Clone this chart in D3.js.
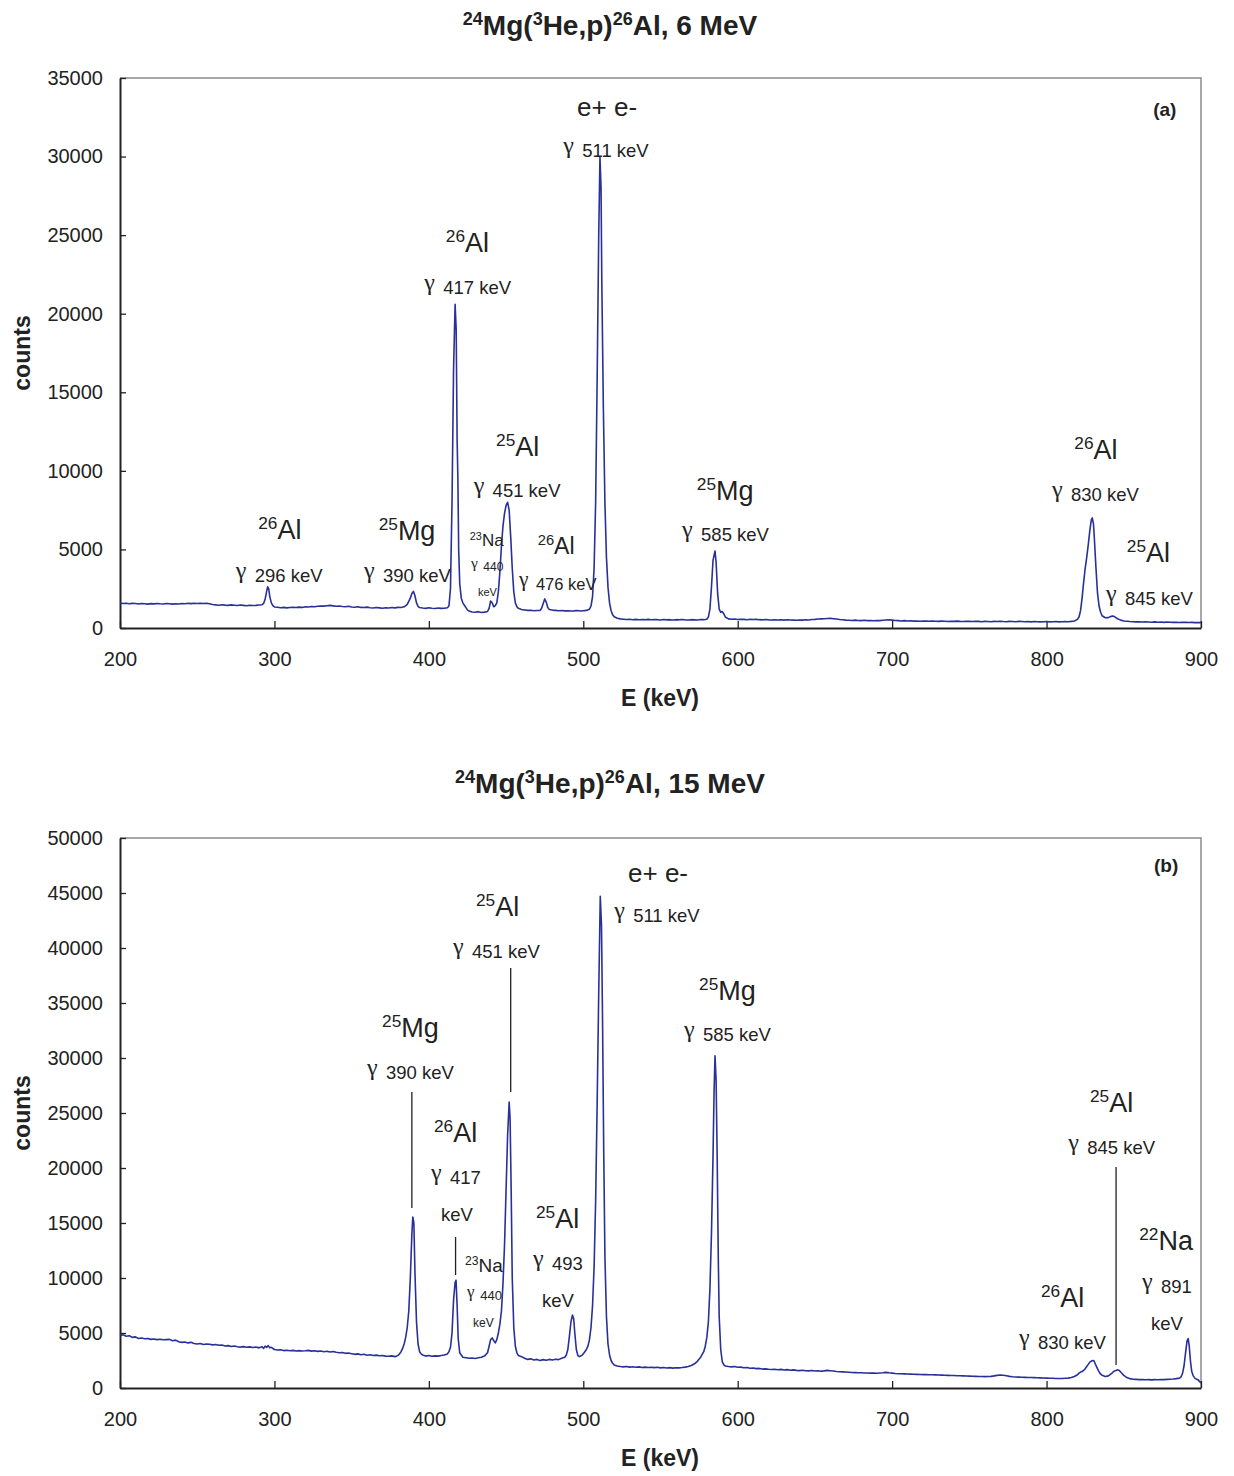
<!DOCTYPE html>
<html>
<head>
<meta charset="utf-8">
<script src="https://cdn.jsdelivr.net/npm/d3@7"></script>
<style>
  body { margin: 0; background: #fff; }
  text { font-family: "Liberation Sans", Arial, Helvetica, sans-serif; }
</style>
</head>
<body>
<svg id="chart" width="1234" height="1476"></svg>
<script>
// Gamma-ray spectra, [energy keV, counts]
const spectrumA = [
  [200,1590],[202,1560],[204,1575],[206,1540],[208,1565],[210,1555],[212,1530],[214,1560],[216,1545],[218,1520],
  [220,1550],[222,1535],[224,1560],[226,1540],[228,1525],[230,1555],[232,1540],[234,1520],[236,1545],[238,1530],
  [240,1560],[242,1545],[244,1570],[246,1550],[248,1575],[250,1560],[252,1580],[254,1555],[256,1570],[258,1540],
  [260,1500],[262,1470],[264,1450],[266,1480],[268,1455],[270,1440],[272,1470],[274,1450],[276,1430],[278,1460],
  [280,1440],[282,1420],[284,1450],[286,1430],[288,1440],[290,1460],[292,1480],[293,1560],[294,1850],[295,2350],
  [295.6,2620],[296.3,2500],[297,2000],[298,1600],[299,1420],[300,1340],[302,1320],[304,1290],[306,1310],[308,1280],
  [310,1300],[312,1320],[314,1300],[316,1330],[318,1310],[320,1350],[322,1340],[324,1370],[326,1350],[328,1380],
  [330,1400],[332,1390],[334,1420],[336,1440],[338,1410],[340,1380],[342,1400],[344,1370],[346,1350],[348,1380],
  [350,1340],[352,1320],[354,1350],[356,1310],[358,1300],[360,1330],[362,1290],[364,1270],[366,1300],[368,1280],
  [370,1260],[372,1290],[374,1270],[376,1300],[378,1280],[380,1310],[382,1300],[384,1350],[386,1500],[388,1900],
  [389,2200],[390,2330],[391,2050],[392,1600],[393,1380],[394,1300],[396,1270],[398,1250],[400,1290],[402,1260],
  [404,1240],[406,1270],[408,1250],[410,1260],[412,1290],[413,1400],[414,2500],[415,8000],[416,16500],[417,20600],
  [417.7,19000],[418.3,12000],[418.8,9500],[419.3,5000],[420,2800],[421,1900],[422,1600],[423,1450],[424,1300],[425,1150],
  [426,1080],[428,1020],[430,1000],[432,1040],[434,990],[436,1010],[438,1050],[439,1250],[440,1720],[441,1600],
  [442,1350],[443,1420],[444,1600],[445,2300],[446,3600],[447,5200],[448,6500],[449,7300],[450,7800],[451,8000],
  [452,7500],[453,5800],[454,3800],[455,2300],[456,1600],[457,1350],[458,1250],[460,1180],[462,1150],[464,1120],
  [466,1130],[468,1100],[470,1110],[472,1120],[473,1250],[474,1550],[475,1850],[476,1650],[477,1300],[478,1180],
  [480,1140],[482,1120],[484,1100],[486,1110],[488,1090],[490,1100],[492,1080],[494,1090],[496,1110],[498,1080],
  [500,1100],[502,1120],[504,1200],[505,1400],[506,2000],[507,3800],[508,8000],[509,16000],[510,25000],[510.8,30000],
  [511.5,28000],[512,22000],[513,14000],[514,8000],[515,4500],[516,2600],[517,1600],[518,1100],[519,850],[520,720],
  [522,620],[524,580],[526,560],[528,540],[530,560],[532,530],[534,550],[536,520],[538,540],[540,530],
  [542,550],[544,520],[546,540],[548,530],[550,510],[552,540],[554,520],[556,530],[558,510],[560,530],
  [562,520],[564,540],[566,520],[568,510],[570,530],[572,520],[574,510],[576,540],[578,530],[580,560],
  [581,700],[582,1200],[583,2600],[584,4300],[585.3,4900],[586,4200],[587,2200],[588,1200],[589,1000],[590,1050],
  [591,900],[592,700],[594,580],[596,560],[598,570],[600,540],[602,560],[604,550],[606,530],[608,560],
  [610,540],[612,550],[614,530],[616,520],[618,540],[620,520],[622,510],[624,530],[626,510],[628,520],
  [630,500],[632,520],[634,510],[636,500],[638,490],[640,510],[642,500],[644,520],[646,510],[648,540],
  [650,550],[652,570],[654,580],[656,590],[658,600],[660,610],[662,590],[664,570],[666,540],[668,520],
  [670,500],[672,490],[674,480],[676,500],[678,480],[680,470],[682,490],[684,470],[686,480],[688,460],
  [690,480],[692,470],[694,490],[696,510],[698,520],[700,500],[702,480],[704,470],[706,450],[708,470],
  [710,450],[712,460],[714,440],[716,450],[718,430],[720,450],[722,440],[724,430],[726,450],[728,430],
  [730,420],[732,440],[734,430],[736,410],[738,430],[740,420],[742,440],[744,420],[746,410],[748,430],
  [750,420],[752,410],[754,430],[756,420],[758,400],[760,420],[762,410],[764,400],[766,420],[768,410],
  [770,430],[772,410],[774,400],[776,420],[778,410],[780,400],[782,420],[784,410],[786,400],[788,410],
  [790,390],[792,410],[794,400],[796,390],[798,400],[800,410],[802,390],[804,400],[806,410],[808,390],
  [810,400],[812,410],[814,400],[816,420],[818,450],[820,550],[821,700],[822,1100],[823,1900],[824,2900],
  [825,3800],[826,4500],[827,5300],[828,6200],[829,6900],[829.6,7000],[830.4,6600],[831,5600],[832,3800],[833,2200],
  [834,1400],[835,1000],[836,780],[838,650],[840,660],[841,710],[842,740],[843,760],[844,720],[845,650],
  [846,590],[848,500],[850,450],[852,430],[854,410],[856,400],[858,390],[860,400],[862,380],[864,390],
  [866,380],[868,370],[870,390],[872,370],[874,380],[876,360],[878,380],[880,370],[882,360],[884,370],
  [886,350],[888,370],[890,360],[892,350],[894,360],[896,340],[898,350],[900,340]
];

const spectrumB = [
  [200,4900],[201,4800],[202,4850],[204,4700],[206,4750],[208,4600],[210,4650],[212,4500],[214,4550],[216,4480],
  [218,4500],[220,4420],[222,4450],[224,4400],[226,4430],[228,4380],[230,4400],[232,4420],[234,4300],[236,4350],
  [238,4200],[240,4150],[242,4180],[244,4100],[246,4150],[248,4050],[250,4000],[252,4050],[254,3950],[256,4000],
  [258,3980],[260,3920],[262,3950],[264,3880],[266,3900],[268,3820],[270,3850],[272,3780],[274,3820],[276,3750],
  [278,3720],[280,3760],[282,3700],[284,3740],[286,3680],[288,3720],[290,3650],[292,3750],[293,3600],[294,3800],
  [295,3700],[296,3850],[297,3650],[298,3700],[300,3500],[302,3450],[304,3480],[306,3400],[308,3430],[310,3380],
  [312,3420],[314,3370],[316,3400],[318,3360],[320,3380],[322,3420],[324,3350],[326,3380],[328,3330],[330,3360],
  [332,3300],[334,3340],[336,3280],[338,3320],[340,3250],[342,3200],[344,3230],[346,3150],[348,3180],[350,3120],
  [352,3060],[354,3100],[356,3030],[358,3070],[360,2980],[362,3020],[364,2950],[366,2990],[368,2930],[370,2960],
  [372,2900],[374,2880],[376,2920],[378,2850],[380,2950],[381,3100],[382,3300],[383,3600],[384,4000],[385,4600],
  [386,5500],[387,7000],[388,10000],[389,14000],[389.6,15550],[390.3,15000],[391,10500],[392,6000],[393,4000],[394,3300],
  [395,3100],[396,3000],[398,2900],[400,2950],[402,2880],[404,2920],[406,2900],[408,2950],[410,3000],[412,3100],
  [413,3300],[414,3700],[415,5000],[416,8000],[417,9600],[417.6,9800],[418.3,7500],[419,4500],[420,3200],[421,3000],
  [422,2800],[424,2750],[426,2700],[428,2720],[430,2680],[432,2750],[434,2800],[436,2900],[438,3200],[439,3800],
  [440,4400],[441,4550],[442,4300],[443,4100],[444,4400],[445,5000],[446,5800],[447,7000],[448,9500],[449,13000],
  [450,18000],[451,23000],[452,26000],[452.6,24500],[453.3,18000],[454,10000],[455,5500],[456,3800],[457,3200],[458,2950],
  [460,2850],[462,2700],[464,2600],[466,2650],[468,2550],[470,2600],[472,2500],[474,2580],[476,2520],[478,2600],
  [480,2550],[482,2620],[484,2580],[486,2700],[488,2800],[489,3000],[490,3500],[491,4700],[492,6000],[493,6640],
  [493.8,6300],[494.5,5000],[495.5,3500],[496.5,2950],[497.5,2850],[499,2950],[500,3100],[501,3300],[502,3500],[503,3800],
  [504,4400],[505,5500],[506,7500],[507,11000],[508,17000],[509,26000],[510,36000],[511,44700],[511.8,42000],[512.5,33000],
  [513.2,22000],[514,12000],[515,6500],[516,4000],[517,3000],[518,2500],[519,2250],[520,2100],[522,2000],[524,1950],
  [526,1920],[528,1950],[530,1900],[532,1930],[534,1880],[536,1920],[538,1870],[540,1900],[542,1860],[544,1890],
  [546,1850],[548,1880],[550,1830],[552,1860],[554,1820],[556,1850],[558,1810],[560,1840],[562,1830],[564,1860],
  [566,1900],[568,1950],[570,2050],[572,2200],[574,2450],[576,2800],[578,3300],[579,3800],[580,4600],[581,6000],
  [582,9000],[583,14000],[584,21000],[584.7,27000],[585.3,30200],[586,28000],[586.7,21000],[587.4,12000],[588,6500],[589,3500],
  [590,2400],[591,2100],[592,2000],[594,1950],[596,1920],[598,1960],[600,1880],[602,1900],[604,1840],[606,1860],
  [608,1800],[610,1820],[612,1760],[614,1780],[616,1720],[618,1740],[620,1700],[622,1680],[624,1710],[626,1660],
  [628,1690],[630,1640],[632,1670],[634,1620],[636,1650],[638,1600],[640,1580],[642,1610],[644,1570],[646,1560],
  [648,1590],[650,1540],[652,1570],[654,1530],[656,1560],[658,1600],[660,1570],[662,1540],[664,1500],[666,1480],
  [668,1470],[670,1450],[672,1430],[674,1410],[676,1400],[678,1390],[680,1380],[682,1370],[684,1360],[686,1350],
  [688,1360],[690,1340],[692,1370],[694,1390],[696,1420],[698,1380],[700,1350],[702,1320],[704,1300],[706,1290],
  [708,1280],[710,1270],[712,1260],[714,1250],[716,1240],[718,1230],[720,1220],[722,1230],[724,1210],[726,1200],
  [728,1190],[730,1180],[732,1170],[734,1160],[736,1150],[738,1140],[740,1130],[742,1120],[744,1110],[746,1100],
  [748,1090],[750,1080],[752,1070],[754,1060],[756,1050],[758,1040],[760,1030],[762,1040],[764,1060],[766,1100],
  [768,1150],[770,1180],[772,1160],[774,1110],[776,1060],[778,1020],[780,1000],[782,990],[784,980],[786,970],
  [788,960],[790,950],[792,940],[794,930],[796,920],[798,910],[800,900],[802,890],[804,880],[806,870],
  [808,860],[810,860],[812,880],[814,900],[816,950],[818,1050],[820,1200],[821,1350],[822,1450],[823,1500],
  [824,1600],[825,1750],[826,1950],[827,2150],[828,2350],[829,2450],[830,2500],[830.8,2450],[831.5,2200],[832.5,1900],
  [833.5,1600],[834.5,1350],[836,1150],[838,1050],[840,1100],[842,1300],[843,1450],[844,1550],[845,1600],[846,1650],
  [847,1600],[848,1450],[849,1300],[850,1150],[852,950],[854,850],[856,800],[858,780],[860,760],[862,770],
  [864,750],[866,760],[868,740],[870,760],[872,750],[874,770],[876,760],[878,780],[880,800],[882,820],
  [884,850],[886,900],[887,1000],[888,1300],[889,2000],[890,3200],[891,4300],[891.7,4500],[892.4,3800],[893.2,2400],
  [894,1500],[895,1100],[896,900],[897,800],[898,760],[899,600],[900,450]
];

const xTickValues = [200, 300, 400, 500, 600, 700, 800, 900];
const yTickValuesA = [0, 5000, 10000, 15000, 20000, 25000, 30000, 35000];
const yTickValuesB = [0, 5000, 10000, 15000, 20000, 25000, 30000, 35000, 40000, 45000, 50000];

// Peak annotations (anchor in energy / counts)
const peakLabelsA = [
  { kind: "plain", text: "e+ e-", e: 515.4, c: 32600, size: 26, anchor: "middle" },
  { kind: "gamma", text: "511 keV", e: 487, c: 29950, size: 18.5 },
  { kind: "iso", sup: "26", name: "Al", e: 411, c: 23930, size: 27 },
  { kind: "gamma", text: "417 keV", e: 397, c: 21250, size: 18.5 },
  { kind: "iso", sup: "25", name: "Al", e: 443.5, c: 10950, size: 27 },
  { kind: "gamma", text: "451 keV", e: 429, c: 8340, size: 18.5 },
  { kind: "iso", sup: "25", name: "Mg", e: 573.5, c: 8150, size: 27 },
  { kind: "gamma", text: "585 keV", e: 564, c: 5530, size: 18.5 },
  { kind: "iso", sup: "26", name: "Al", e: 818, c: 10750, size: 27 },
  { kind: "gamma", text: "830 keV", e: 803.5, c: 8080, size: 18.5 },
  { kind: "iso", sup: "25", name: "Al", e: 852, c: 4200, size: 27 },
  { kind: "gamma", text: "845 keV", e: 838.5, c: 1460, size: 18.5 },
  { kind: "iso", sup: "26", name: "Al", e: 289.5, c: 5660, size: 27 },
  { kind: "gamma", text: "296 keV", e: 275, c: 2930, size: 18.5 },
  { kind: "iso", sup: "25", name: "Mg", e: 367.5, c: 5600, size: 27 },
  { kind: "gamma", text: "390 keV", e: 358, c: 2930, size: 18.5 },
  { kind: "iso", sup: "23", name: "Na", e: 426.5, c: 5220, size: 17 },
  { kind: "gamma", text: "440", e: 427.3, c: 3630, size: 12 },
  { kind: "plain", text: "keV", e: 431.8, c: 2035, size: 11 },
  { kind: "iso", sup: "26", name: "Al", e: 470.5, c: 4710, size: 23 },
  { kind: "gamma", text: "476 keV", e: 458.4, c: 2420, size: 16.5 },
  { kind: "bold", text: "(a)", e: 869, c: 32580, size: 19 }
];

const peakLabelsB = [
  { kind: "plain", text: "e+ e-", e: 548.4, c: 46000, size: 26, anchor: "middle" },
  { kind: "gamma", text: "511 keV", e: 520, c: 42360, size: 18.5 },
  { kind: "iso", sup: "25", name: "Al", e: 430.5, c: 42900, size: 27 },
  { kind: "gamma", text: "451 keV", e: 415.6, c: 39090, size: 18.5 },
  { kind: "iso", sup: "25", name: "Mg", e: 575, c: 35270, size: 27 },
  { kind: "gamma", text: "585 keV", e: 565.2, c: 31545, size: 18.5 },
  { kind: "iso", sup: "25", name: "Mg", e: 369.7, c: 31910, size: 27 },
  { kind: "gamma", text: "390 keV", e: 360, c: 28090, size: 18.5 },
  { kind: "iso", sup: "26", name: "Al", e: 403.3, c: 22360, size: 27 },
  { kind: "gamma", text: "417", e: 401.4, c: 18545, size: 18.5 },
  { kind: "plain", text: "keV", e: 407.9, c: 15180, size: 18.5 },
  { kind: "iso", sup: "23", name: "Na", e: 423.4, c: 10545, size: 19 },
  { kind: "gamma", text: "440", e: 424.7, c: 8000, size: 13 },
  { kind: "plain", text: "keV", e: 428.6, c: 5545, size: 12 },
  { kind: "iso", sup: "25", name: "Al", e: 469.4, c: 14545, size: 27 },
  { kind: "gamma", text: "493", e: 467.4, c: 10730, size: 18.5 },
  { kind: "plain", text: "keV", e: 473.3, c: 7360, size: 18.5 },
  { kind: "iso", sup: "25", name: "Al", e: 828.1, c: 25090, size: 27 },
  { kind: "gamma", text: "845 keV", e: 814, c: 21270, size: 18.5 },
  { kind: "iso", sup: "22", name: "Na", e: 860, c: 12545, size: 27 },
  { kind: "gamma", text: "891", e: 861.8, c: 8636, size: 18.5 },
  { kind: "plain", text: "keV", e: 867.6, c: 5270, size: 18.5 },
  { kind: "iso", sup: "26", name: "Al", e: 796.4, c: 7360, size: 27 },
  { kind: "gamma", text: "830 keV", e: 782.2, c: 3545, size: 18.5 },
  { kind: "bold", text: "(b)", e: 869.6, c: 46900, size: 19 }
];

// Leader lines from labels down to peaks: energy, upper and lower counts
const leadersB = [
  { e: 389, c1: 26900, c2: 16360 },
  { e: 417.3, c1: 13730, c2: 10270 },
  { e: 453, c1: 38180, c2: 26900 },
  { e: 845, c1: 20090, c2: 2090 }
];

const svg = d3.select("#chart");
const plotLeft = 120, plotWidth = 1081, plotHeight = 550;
const lineColor = "#28309a";
const textColor = "#222";

function drawTitle(yBase, energy) {
  const t = svg.append("text")
    .attr("x", 610).attr("y", yBase)
    .attr("text-anchor", "middle")
    .attr("font-weight", "bold").attr("font-size", 28).attr("fill", textColor);
  const parts = [["24", true], ["Mg(", false], ["3", true], ["He,p)", false], ["26", true], ["Al, " + energy, false]];
  let raised = false;
  parts.forEach(([s, sup]) => {
    const ts = t.append("tspan").text(s);
    if (sup) { ts.attr("font-size", 18); if (!raised) { ts.attr("dy", -10); raised = true; } }
    else if (raised) { ts.attr("dy", 10); raised = false; }
  });
}

function drawPanel(top, data, yMax, yTicks, labels, leaders, title, titleY) {
  const x = d3.scaleLinear().domain([200, 900]).range([plotLeft, plotLeft + plotWidth]);
  const y = d3.scaleLinear().domain([0, yMax]).range([top + plotHeight, top]);

  drawTitle(titleY, title);

  // frame (top and right)
  svg.append("path")
    .attr("d", `M${plotLeft},${top}H${plotLeft + plotWidth}V${top + plotHeight}`)
    .attr("fill", "none").attr("stroke", "#8c8c8c").attr("stroke-width", 1.5);

  // x axis
  const gx = svg.append("g").attr("transform", `translate(0,${top + plotHeight})`)
    .call(d3.axisBottom(x).tickValues(xTickValues).tickSizeInner(-7).tickSizeOuter(0).tickPadding(24).tickFormat(d3.format("d")));
  gx.select(".domain").attr("stroke", "#222").attr("stroke-width", 2);
  gx.selectAll(".tick line").attr("stroke", "#222").attr("stroke-width", 1.3);
  gx.selectAll(".tick text").attr("font-size", 20).attr("fill", textColor)
    .attr("font-family", "'Liberation Sans', Arial, sans-serif");

  // y axis
  const gy = svg.append("g").attr("transform", `translate(${plotLeft},0)`)
    .call(d3.axisLeft(y).tickValues(yTicks).tickSizeInner(-6).tickSizeOuter(0).tickPadding(17).tickFormat(d3.format("d")));
  gy.select(".domain").attr("stroke", "#222").attr("stroke-width", 2);
  gy.selectAll(".tick line").attr("stroke", "#222").attr("stroke-width", 1.3);
  gy.selectAll(".tick text").attr("font-size", 20).attr("fill", textColor)
    .attr("font-family", "'Liberation Sans', Arial, sans-serif");

  // axis titles
  svg.append("text")
    .attr("transform", `translate(30,${top + plotHeight / 2}) rotate(-90)`)
    .attr("text-anchor", "middle").attr("font-weight", "bold").attr("font-size", 23)
    .attr("fill", textColor).text("counts");
  svg.append("text")
    .attr("x", 660).attr("y", top + plotHeight + 78)
    .attr("text-anchor", "middle").attr("font-weight", "bold").attr("font-size", 23)
    .attr("fill", textColor).text("E (keV)");

  // spectrum
  const line = d3.line().x(d => x(d[0])).y(d => y(d[1]));
  svg.append("path").datum(data)
    .attr("d", line).attr("fill", "none")
    .attr("stroke", lineColor).attr("stroke-width", 1.6).attr("stroke-linejoin", "round");

  // leader lines
  leaders.forEach(l => {
    svg.append("line")
      .attr("x1", x(l.e)).attr("x2", x(l.e))
      .attr("y1", y(l.c1)).attr("y2", y(l.c2))
      .attr("stroke", "#222").attr("stroke-width", 1.3);
  });

  // peak labels
  labels.forEach(l => {
    const t = svg.append("text")
      .attr("x", x(l.e)).attr("y", y(l.c))
      .attr("font-size", l.size).attr("fill", textColor);
    if (l.kind === "iso") {
      t.append("tspan").attr("font-size", l.size * 0.64).attr("dy", -l.size * 0.38).text(l.sup);
      t.append("tspan").attr("dy", l.size * 0.38).text(l.name);
    } else if (l.kind === "gamma") {
      const gs = l.size * 1.3, lift = l.size * 0.24;
      t.append("tspan").attr("font-family", "'Liberation Serif', 'DejaVu Serif', serif")
        .attr("font-size", gs).attr("dy", -lift).text("γ");
      t.append("tspan").attr("dx", l.size * 0.45).attr("dy", lift).text(l.text);
    } else if (l.kind === "bold") {
      t.attr("font-weight", "bold").text(l.text);
    } else {
      t.attr("text-anchor", l.anchor || "start").text(l.text);
    }
  });
}

drawPanel(78, spectrumA, 35000, yTickValuesA, peakLabelsA, [], "6 MeV", 35);
drawPanel(838, spectrumB, 50000, yTickValuesB, peakLabelsB, leadersB, "15 MeV", 793);
</script>
</body>
</html>
